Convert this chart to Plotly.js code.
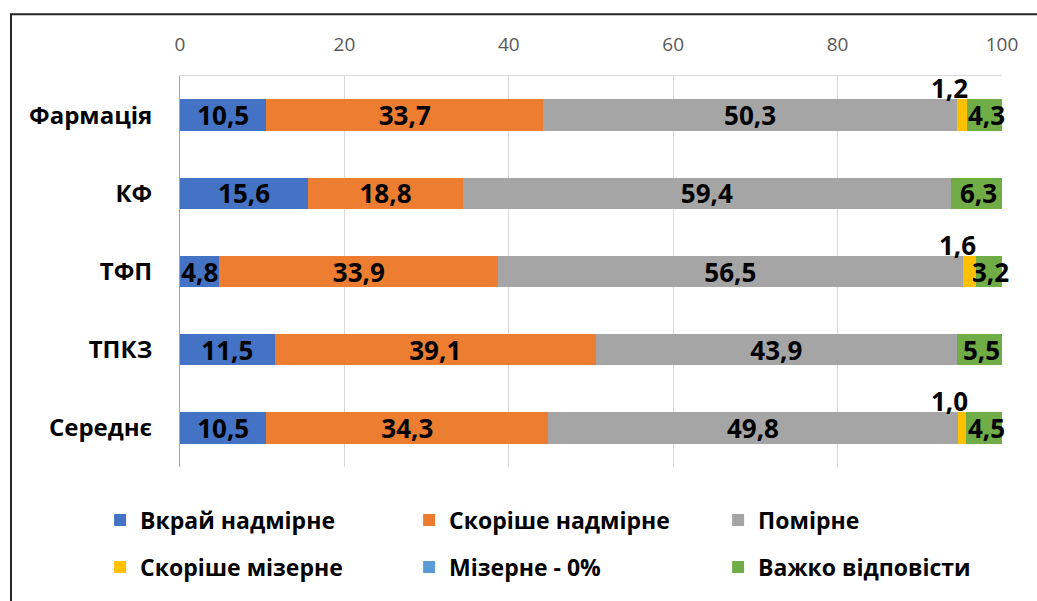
<!DOCTYPE html>
<html>
<head>
<meta charset="utf-8">
<script src="https://cdn.plot.ly/plotly-3.0.1.min.js"></script>
<style>
  html, body { margin: 0; padding: 0; background: #ffffff; }
  #chart { width: 1037px; height: 601px; }
</style>
</head>
<body>
<div id="chart"></div>
<script>
// ---- data ----
const categories = ['Фармація', 'КФ', 'ТФП', 'ТПКЗ', 'Середнє'];
const seriesNames = ['Вкрай надмірне', 'Скоріше надмірне', 'Помірне', 'Скоріше мізерне', 'Мізерне - 0%', 'Важко відповісти'];
const vkraiNadmirne   = [10.5, 15.6, 4.8, 11.5, 10.5];
const skorisheNadmirne = [33.7, 18.8, 33.9, 39.1, 34.3];
const pomirne         = [50.3, 59.4, 56.5, 43.9, 49.8];
const skorisheMizerne = [1.2, 0, 1.6, 0, 1.0];
const mizerne0        = [0, 0, 0, 0, 0];
const vazhkoVidpovisty = [4.3, 6.3, 3.2, 5.5, 4.5];
const xTicks = [0, 20, 40, 60, 80, 100];

const seriesValues = [vkraiNadmirne, skorisheNadmirne, pomirne, skorisheMizerne, mizerne0, vazhkoVidpovisty];
const colors = ['#4472C4', '#ED7D31', '#A5A5A5', '#FFC000', '#5B9BD5', '#70AD47'];

const FONT = '"Open Sans", "Noto Sans", sans-serif';
const LABEL_FONT = { family: FONT, size: 26, color: '#000000', weight: 'bold' };
const fmt = v => v.toFixed(1).replace('.', ',');

// series 0-2 get their labels inside the bar; 3 and 5 are labelled via annotations
const insideLabelled = [true, true, true, false, false, false];

const traces = seriesValues.map((vals, i) => ({
  type: 'bar',
  orientation: 'h',
  name: seriesNames[i],
  y: categories,
  x: vals,
  marker: { color: colors[i], line: { width: 0 } },
  text: insideLabelled[i] ? vals.map(v => v > 0 ? fmt(v) : '') : vals.map(() => ''),
  textposition: 'inside',
  insidetextanchor: 'middle',
  constraintext: 'none',
  textangle: 0,
  insidetextfont: LABEL_FONT,
  hoverinfo: 'x+y+name',
  legend: i < 3 ? 'legend' : 'legend2'
}));

const annotations = [];
categories.forEach((c, k) => {
  // "Скоріше мізерне" — label above the thin segment
  const vY = skorisheMizerne[k];
  const startY = vkraiNadmirne[k] + skorisheNadmirne[k] + pomirne[k];
  if (vY > 0) {
    annotations.push({
      x: startY + vY / 2, y: c, xref: 'x', yref: 'y',
      text: fmt(vY), showarrow: false,
      xanchor: 'center', yanchor: 'middle', yshift: 27, xshift: -12,
      font: LABEL_FONT
    });
  }
  // "Важко відповісти" — label centred on the segment (may overflow the plot)
  const vG = vazhkoVidpovisty[k];
  const startG = startY + vY + mizerne0[k];
  if (vG > 0) {
    annotations.push({
      x: startG + vG / 2, y: c, xref: 'x', yref: 'y',
      text: fmt(vG), showarrow: false,
      xanchor: 'center', yanchor: 'middle', xshift: 2,
      font: LABEL_FONT
    });
  }
});

const legendCommon = {
  orientation: 'h', x: -0.0972, xanchor: 'left', yanchor: 'middle',
  traceorder: 'normal',
  entrywidth: 264, entrywidthmode: 'pixels',
  font: { family: FONT, size: 23, color: '#000000', weight: 'bold' },
  bgcolor: 'rgba(0,0,0,0)', borderwidth: 0
};

const layout = {
  width: 1037, height: 601,
  margin: { l: 180, r: 35, t: 76, b: 134, pad: 0, autoexpand: false },
  paper_bgcolor: '#ffffff', plot_bgcolor: '#ffffff',
  barmode: 'stack',
  bargap: 0.6,
  showlegend: true,
  font: { family: FONT, color: '#000000' },
  xaxis: {
    side: 'top', range: [0, 100], tickvals: xTicks,
    showgrid: true, gridcolor: '#d9d9d9', gridwidth: 1,
    showline: true, linecolor: '#d9d9d9', linewidth: 1,
    zeroline: false, ticks: '', ticklabelstandoff: 16,
    tickfont: { family: FONT, size: 19, color: '#595959' }
  },
  yaxis: {
    type: 'category', range: [4.5, -0.5], autorange: false,
    showgrid: false, zeroline: false,
    showline: true, linecolor: '#a6a6a6', linewidth: 1,
    ticks: '', ticklabelstandoff: 22,
    tickfont: { family: FONT, size: 24, color: '#000000', weight: 'bold' }
  },
  legend: Object.assign({}, legendCommon, { y: -0.1355 }),
  legend2: Object.assign({}, legendCommon, { y: -0.2558 }),
  annotations: annotations,
  shapes: [{
    type: 'rect', xref: 'paper', yref: 'paper',
    x0: -0.2056, x1: 1.1, y0: -0.5, y1: 1.158,
    line: { color: '#262626', width: 2 }, fillcolor: 'rgba(0,0,0,0)', layer: 'below'
  }]
};

Plotly.newPlot('chart', traces, layout, { displayModeBar: false, staticPlot: true });
</script>
</body>
</html>
